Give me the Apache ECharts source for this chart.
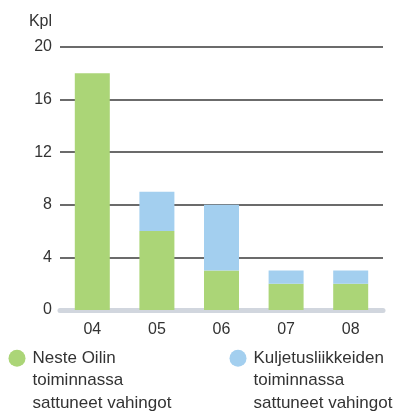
<!DOCTYPE html>
<html>
<head>
<meta charset="utf-8">
<script src="https://cdn.jsdelivr.net/npm/echarts@6/dist/echarts.min.js"></script>
<style>
  html, body { margin: 0; padding: 0; background: #fff; }
  #chart { width: 393px; height: 412px; }
</style>
</head>
<body>
<div id="chart"></div>
<script>
// Years (two-digit) on the category axis
const years = ['04', '05', '06', '07', '08'];
// Incidents in Neste Oil's own operations (thousands)
const nesteValues = [18, 6, 3, 2, 2];
// Incidents in transport companies' operations (thousands)
const transportValues = [0, 3, 5, 1, 1];
const seriesNames = [
  'Neste Oilin\ntoiminnassa\nsattuneet vahingot',
  'Kuljetusliikkeiden\ntoiminnassa\nsattuneet vahingot'
];
const yTicks = { min: 0, max: 20, interval: 4 };

const GREEN = '#abd577';
const BLUE = '#a3cfef';
const FONT = 'Liberation Sans';

const chart = echarts.init(document.getElementById('chart'));

// Legend text is centred on its marker, so two empty lines are prepended
// to put the marker beside the first line of the three-line label.
const legendBase = {
  top: 297, icon: 'circle', itemWidth: 21, itemHeight: 17, itemGap: 0,
  formatter: name => '\n\n' + name,
  textStyle: { fontFamily: FONT, fontSize: 17, color: '#333', lineHeight: 22.5 }
};

chart.setOption({
  animation: false,
  grid: { left: 60, right: 10, top: 47, bottom: 102 },
  legend: [
    Object.assign({ data: [seriesNames[0]], left: 3.5 }, legendBase),
    Object.assign({ data: [seriesNames[1]], left: 224.5 }, legendBase)
  ],
  xAxis: {
    type: 'category',
    data: years,
    offset: 3,
    axisLine: { show: true, lineStyle: { color: '#d1d6de', width: 5 } },
    axisTick: { show: false },
    axisLabel: { fontFamily: FONT, fontSize: 16, color: '#333', margin: 9 }
  },
  yAxis: {
    type: 'value',
    min: yTicks.min, max: yTicks.max, interval: yTicks.interval,
    name: 'Kpl',
    nameLocation: 'end',
    nameGap: 17,
    nameTextStyle: { fontFamily: FONT, fontSize: 16, color: '#333', align: 'right', padding: [0, 8, 0, 0] },
    axisLine: { show: false },
    axisTick: { show: false },
    axisLabel: { fontFamily: FONT, fontSize: 16, color: '#333', margin: 8 },
    splitLine: { lineStyle: { color: '#3a3a3a', width: 1.5 } }
  },
  series: [
    {
      name: seriesNames[0], type: 'bar', stack: 'total',
      data: nesteValues, barWidth: 35,
      itemStyle: { color: GREEN }
    },
    {
      name: seriesNames[1], type: 'bar', stack: 'total',
      data: transportValues, barWidth: 35,
      itemStyle: { color: BLUE }
    }
  ]
});
</script>
</body>
</html>
